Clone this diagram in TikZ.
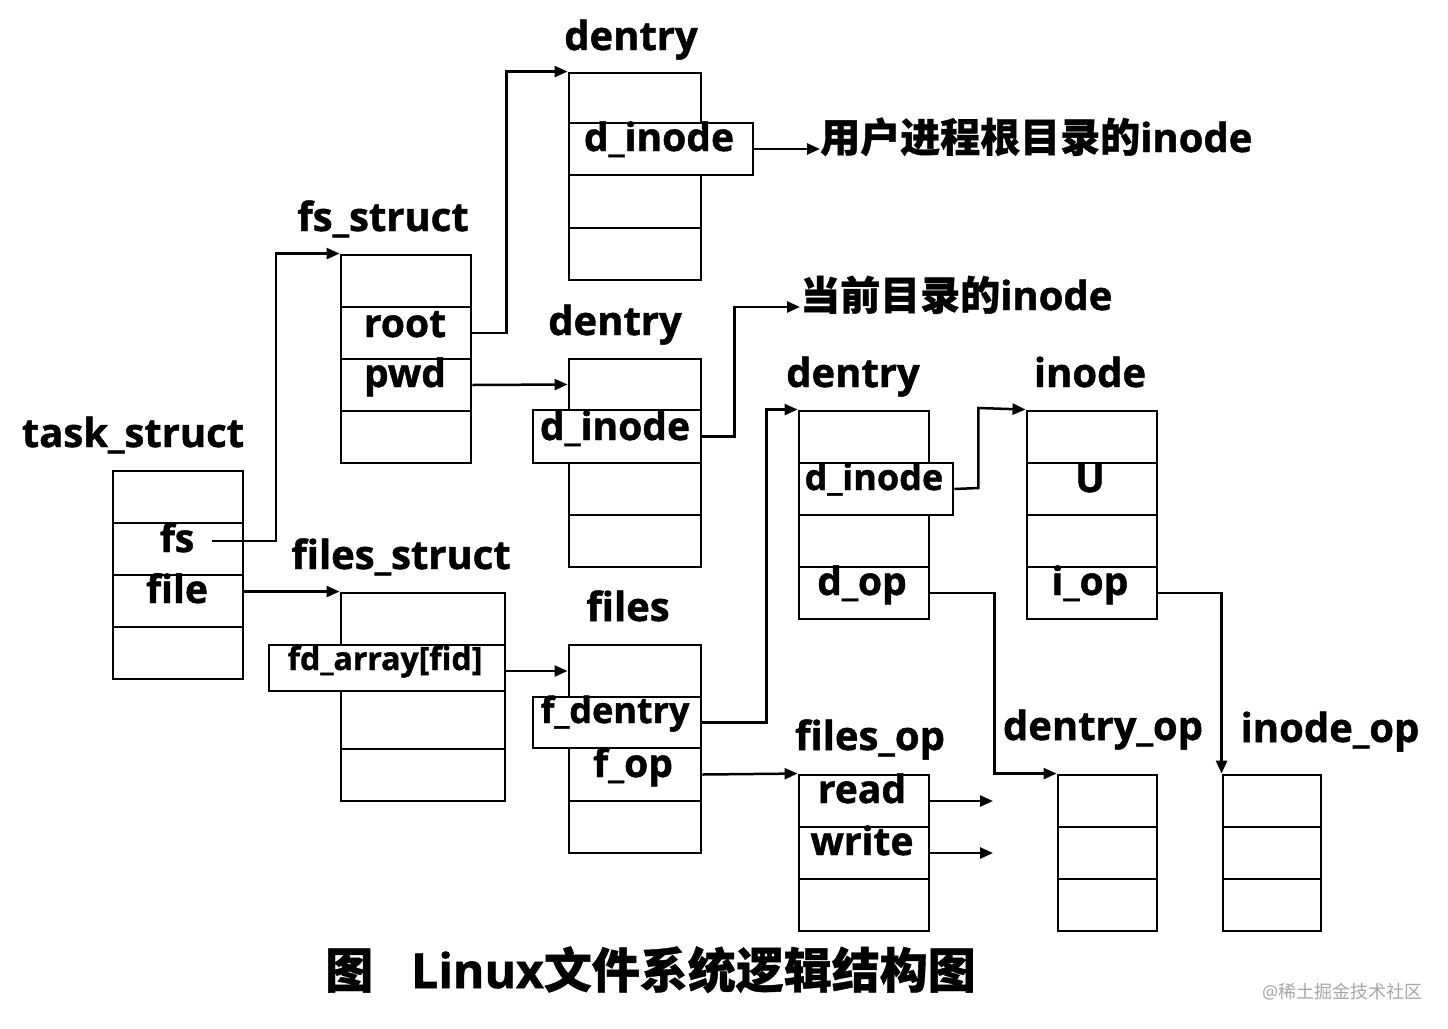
\documentclass[tikz,border=0pt]{standalone}
\usepackage{fontspec}
\setmainfont{Open Sans}[BoldFeatures={FakeBold=1.2}]
\newfontfamily\cjk{Noto Sans CJK SC}[BoldFeatures={FakeBold=0.8}]
\newfontfamily\cjkplain{Noto Sans CJK SC}
\usetikzlibrary{arrows.meta}
\begin{document}
\begin{tikzpicture}[x=1pt,y=-1pt,
  cell/.style={draw, line width=2.9pt, inner sep=0pt, minimum height=52pt, minimum width=130pt},
  wide/.style={draw, fill=white, line width=2.9pt, inner sep=0pt},
  lbl/.style={inner sep=0pt, anchor=base, font=\bfseries\fontsize{40}{48}\selectfont},
  fld/.style={inner sep=0pt, anchor=base, font=\bfseries\fontsize{39}{46}\selectfont},
  note/.style={inner sep=0pt, anchor=base west, font=\bfseries\fontsize{40}{48}\selectfont},
  arr/.style={line width=2.5pt, -{Triangle[length=13pt,width=11pt]}},
  con/.style={line width=2.5pt}]
\useasboundingbox (0,0) rectangle (1448,1028);
\fill[white] (0,0) rectangle (1448,1028);

% task_struct
\node[cell] (ts1) at (178,497) {};
\node[cell] (ts2) at (178,549) {};
\node[cell] (ts3) at (178,601) {};
\node[cell] (ts4) at (178,653) {};
% fs_struct
\node[cell] (fs1) at (406,281) {};
\node[cell] (fs2) at (406,333) {};
\node[cell] (fs3) at (406,385) {};
\node[cell] (fs4) at (406,437) {};
% dentry 1
\node[cell, minimum width=132pt, minimum height=50pt] (d1a) at (635,98) {};
\node[cell, minimum width=132pt, minimum height=53pt] (d1c) at (635,201.5) {};
\node[cell, minimum width=132pt] (d1d) at (635,254) {};
\node[wide, minimum width=184pt, minimum height=52pt] (d1w) at (661,149) {};
% dentry 2
\node[cell, minimum width=132pt, minimum height=51pt] (d2a) at (635,384.5) {};
\node[cell, minimum width=132pt] (d2c) at (635,489) {};
\node[cell, minimum width=132pt] (d2d) at (635,541) {};
\node[wide, minimum width=168pt, minimum height=53pt] (d2w) at (617,436.5) {};
% dentry 3
\node[cell] (d3a) at (864,437) {};
\node[cell] (d3c) at (864,541) {};
\node[cell] (d3d) at (864,593) {};
\node[wide, minimum width=154pt, minimum height=52pt] (d3w) at (876,489) {};
% inode
\node[cell] (i1) at (1092,437) {};
\node[cell] (i2) at (1092,489) {};
\node[cell] (i3) at (1092,541) {};
\node[cell] (i4) at (1092,593) {};
% files_struct
\node[cell, minimum width=164pt] (fst1) at (423,619) {};
\node[cell, minimum width=164pt, minimum height=58pt] (fst3) at (423,720) {};
\node[cell, minimum width=164pt] (fst4) at (423,775) {};
\node[wide, minimum width=236pt, minimum height=46pt] (fdw) at (387,668) {};
% files
\node[cell, minimum width=132pt] (f1) at (635,671) {};
\node[cell, minimum width=132pt, minimum height=53pt] (f3) at (635,774.5) {};
\node[cell, minimum width=132pt] (f4) at (635,827) {};
\node[wide, minimum width=168pt, minimum height=51pt] (fw) at (617,722.5) {};
% files_op
\node[cell] (fo1) at (864,801) {};
\node[cell] (fo2) at (864,853) {};
\node[cell] (fo3) at (864,905) {};
% dentry_op
\node[cell, minimum width=99pt] (do1) at (1107.5,801) {};
\node[cell, minimum width=99pt] (do2) at (1107.5,853) {};
\node[cell, minimum width=99pt] (do3) at (1107.5,905) {};
% inode_op
\node[cell, minimum width=98pt] (io1) at (1272,801) {};
\node[cell, minimum width=98pt] (io2) at (1272,853) {};
\node[cell, minimum width=98pt] (io3) at (1272,905) {};

% labels
\node[lbl] (Lts) at (133,447) {task\_struct};
\node[lbl] (Lfs) at (383,231) {fs\_struct};
\node[lbl] (Ld1) at (631,50) {dentry};
\node[lbl] (Ld2) at (615,335) {dentry};
\node[lbl] (Ld3) at (853,387) {dentry};
\node[lbl] (Lin) at (1090,387) {inode};
\node[lbl] (Lfst) at (401,569) {files\_struct};
\node[lbl] (Lf) at (628,621) {files};
\node[lbl] (Lfo) at (870,750) {files\_op};
\node[lbl] (Ldo) at (1103,740) {dentry\_op};
\node[lbl] (Lio) at (1330,742) {inode\_op};

% field texts
\node[fld] (tfs) at (177,552) {fs};
\node[fld] (tfile) at (177,603) {file};
\node[fld] (troot) at (405,337) {root};
\node[fld] (tpwd) at (405,387) {pwd};
\node[fld] (td1) at (659,151) {d\_inode};
\node[fld] (td2) at (615,440) {d\_inode};
\node[fld, font=\bfseries\fontsize{36}{44}\selectfont] (td3) at (874,490) {d\_inode};
\node[fld] (tU) at (1090,492) {U};
\node[fld] (tdop) at (862,595) {d\_op};
\node[fld] (tiop) at (1090,595) {i\_op};
\node[fld, font=\bfseries\fontsize{32}{40}\selectfont] (tfd) at (385,670) {fd\_array[fid]};
\node[fld, font=\bfseries\fontsize{36}{44}\selectfont] (tfd2) at (615,723) {f\_dentry};
\node[fld] (tfop) at (633,777) {f\_op};
\node[fld] (tread) at (862,803) {read};
\node[fld] (twrite) at (862,855) {write};

% notes
\node[note] (n1) at (820,152) {{\cjk 用户进程根目录的}inode};
\node[note] (n2) at (800,310) {{\cjk 当前目录的}inode};

% title and watermark
\node[inner sep=0pt, anchor=base west, font=\bfseries\fontsize{48}{56}\selectfont] (title) at (325,988) {{\cjk 图}\hspace{38pt}Linux{\cjk 文件系统逻辑结构图}};
\node[inner sep=0pt, anchor=base west, text=black!35, font=\fontsize{18}{22}\selectfont] (wm) at (1262,998) {@{\cjkplain 稀土掘金技术社区}};

% free ends
\coordinate (fsst) at (212,541);
\coordinate (rdend) at (993,801);
\coordinate (wrend) at (993,853);

% connectors
\draw[arr] (fsst) -- ++(64,0) |- (fs1.north west);
\draw[arr] (ts3.east |- fst1.north west) -- (fst1.north west);
\draw[arr] (fs2.east) -- ++(34,0) |- (d1a.north west);
\draw[arr] (fs3.east) -- (d2a.west);
\draw[arr] (d1w.east) -- (n1.west |- d1w.east);
\draw[arr] (d2w.east) -- ++(32,0) |- ([yshift=3pt]n2.base west);
\draw[arr] (d3w.east) -- ++(24,-1) -- ++(0,-80) -- (i1.north west);
\draw[arr] (d3d.east) -- ++(64,0) |- (do1.north west);
\draw[arr] (i4.east) -| (io1.north west);
\draw[arr] (fdw.east |- f1.west) -- (f1.west);
\draw[arr] (fw.east) -- ++(64,0) |- (d3a.north west);
\draw[arr] (f3.east) -- (fo1.north west);
\draw[arr] (fo1.east) -- (rdend);
\draw[arr] (fo2.east) -- (wrend);
\end{tikzpicture}
\end{document}
